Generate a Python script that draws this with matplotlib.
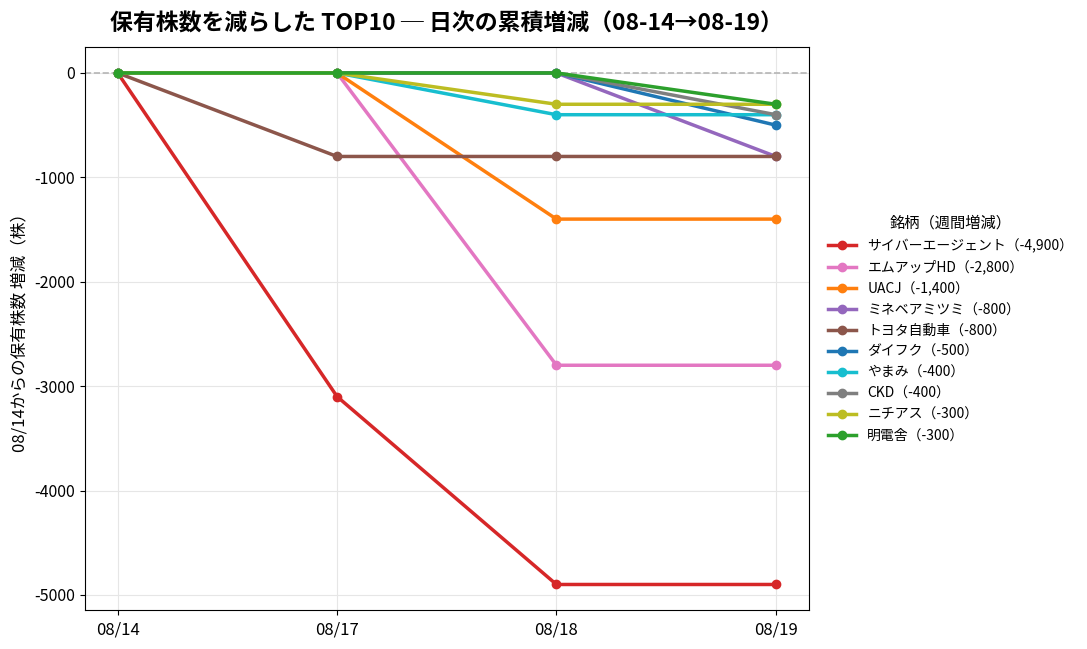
import matplotlib
matplotlib.use("Agg")
import matplotlib.pyplot as plt

plt.rcParams['font.family'] = ['Noto Sans CJK JP', 'DejaVu Sans']
plt.rcParams['axes.unicode_minus'] = False

dates = ["08/14", "08/17", "08/18", "08/19"]
names = ["サイバーエージェント", "エムアップHD", "UACJ", "ミネベアミツミ", "トヨタ自動車",
         "ダイフク", "やまみ", "CKD", "ニチアス", "明電舎"]
weekly = ["-4,900", "-2,800", "-1,400", "-800", "-800", "-500", "-400", "-400", "-300", "-300"]
s_cyber = [0, -3100, -4900, -4900]
s_mup = [0, 0, -2800, -2800]
s_uacj = [0, 0, -1400, -1400]
s_minebea = [0, 0, 0, -800]
s_toyota = [0, -800, -800, -800]
s_daifuku = [0, 0, 0, -500]
s_yamami = [0, 0, -400, -400]
s_ckd = [0, 0, 0, -400]
s_nichias = [0, 0, -300, -300]
s_meiden = [0, 0, 0, -300]
series = [s_cyber, s_mup, s_uacj, s_minebea, s_toyota, s_daifuku, s_yamami, s_ckd, s_nichias, s_meiden]
colors = ["#d62728", "#e377c2", "#ff7f0e", "#9467bd", "#8c564b",
          "#1f77b4", "#17becf", "#7f7f7f", "#bcbd22", "#2ca02c"]

fig, ax = plt.subplots(figsize=(10.87, 6.49), dpi=100)
x = list(range(len(dates)))
ax.axhline(0, color="#b5b5b5", linestyle="--", linewidth=1.2, zorder=1)
for name, w, s, c in zip(names, weekly, series, colors):
    ax.plot(x, s, marker="o", markersize=6, linewidth=2.5, color=c,
            label=f"{name}（{w}）", zorder=3)

ax.set_xticks(x)
ax.set_xticklabels(dates, fontsize=12)
ax.tick_params(axis="y", labelsize=11.5)
ax.tick_params(axis="x", pad=5)
ax.set_yticks([0, -1000, -2000, -3000, -4000, -5000])
ax.grid(True, color="#e6e6e6", linewidth=0.8)
ax.set_axisbelow(True)
ax.set_ylabel("08/14からの保有株数 増減（株）", fontsize=12)
ax.set_title("保有株数を減らした TOP10 ─ 日次の累積増減（08-14→08-19）",
             fontsize=16.5, fontweight="bold", pad=12)
leg = ax.legend(title="銘柄（週間増減）", loc="center left", bbox_to_anchor=(1.01, 0.5),
                frameon=False, fontsize=10, title_fontsize=11, handlelength=2.0,
                labelspacing=0.5)
fig.subplots_adjust(left=0.078, right=0.744, top=0.927, bottom=0.06)
fig.savefig("out.png", dpi=100)
